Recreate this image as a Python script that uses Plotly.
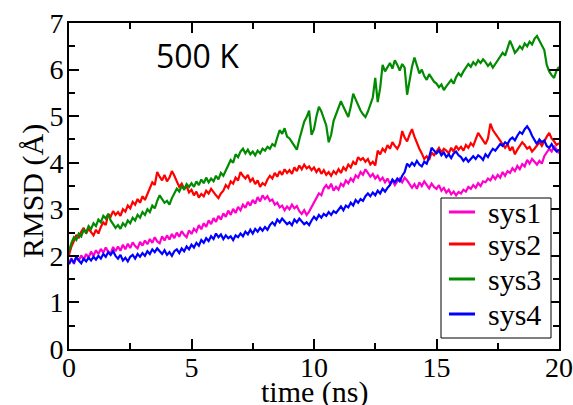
import plotly.graph_objects as go

# Sampling times (ns), one frame every 0.1 ns
time_ns = [round(i * 0.1, 1) for i in range(201)]

# RMSD traces (Å) at 500 K
sys1 = [
    1.86, 1.95, 1.83, 1.98, 1.90, 2.01, 1.92, 2.04, 1.96, 2.09,
    2.00, 2.12, 2.04, 2.15, 2.07, 2.18, 2.09, 2.05, 2.19, 2.10,
    2.20, 2.11, 2.24, 2.14, 2.26, 2.17, 2.29, 2.21, 2.16, 2.30,
    2.22, 2.33, 2.25, 2.36, 2.28, 2.40, 2.31, 2.27, 2.42, 2.33,
    2.44, 2.35, 2.47, 2.38, 2.50, 2.41, 2.53, 2.45, 2.40, 2.55,
    2.47, 2.58, 2.52, 2.66, 2.57, 2.70, 2.62, 2.76, 2.68, 2.81,
    2.73, 2.86, 2.78, 2.91, 2.84, 2.97, 2.88, 3.01, 2.92, 3.05,
    2.98, 3.10, 3.03, 3.16, 3.08, 3.20, 3.12, 3.26, 3.17, 3.30,
    3.22, 3.28, 3.18, 3.21, 3.10, 3.14, 3.04, 3.08, 2.98, 3.06,
    3.00, 3.10, 3.02, 3.07, 2.96, 2.90, 2.98, 2.88, 2.95, 3.05,
    3.12, 3.24, 3.34, 3.30, 3.45, 3.52, 3.44, 3.55, 3.40, 3.48,
    3.42, 3.55, 3.50, 3.62, 3.56, 3.66, 3.60, 3.73, 3.68, 3.80,
    3.74, 3.86, 3.78, 3.70, 3.76, 3.66, 3.72, 3.62, 3.68, 3.58,
    3.66, 3.55, 3.62, 3.52, 3.60, 3.66, 3.58, 3.68, 3.62, 3.54,
    3.46, 3.54, 3.44, 3.58, 3.50, 3.60, 3.52, 3.45, 3.55, 3.48,
    3.44, 3.52, 3.40, 3.46, 3.36, 3.42, 3.32, 3.38, 3.30, 3.37,
    3.34, 3.42, 3.38, 3.48, 3.44, 3.52, 3.46, 3.56, 3.50, 3.60,
    3.58, 3.66, 3.62, 3.72, 3.65, 3.74, 3.68, 3.80, 3.72, 3.82,
    3.78, 3.88, 3.82, 3.93, 3.86, 3.97, 3.92, 4.06, 3.98, 4.08,
    4.02, 3.96, 4.04, 3.98, 4.14, 4.22, 4.30, 4.24, 4.36, 4.28,
    4.20,
]

sys2 = [
    2.02, 2.20, 2.32, 2.45, 2.38, 2.52, 2.60, 2.48, 2.58, 2.50,
    2.44, 2.56, 2.48, 2.62, 2.72, 2.66, 2.90, 2.84, 2.96, 2.88,
    2.94, 2.86, 3.00, 2.95, 3.08, 3.02, 3.16, 3.10, 3.22, 3.14,
    3.28, 3.20, 3.34, 3.45, 3.58, 3.52, 3.80, 3.70, 3.62, 3.74,
    3.60, 3.68, 3.82, 3.72, 3.60, 3.48, 3.55, 3.44, 3.50, 3.36,
    3.42, 3.30, 3.38, 3.25, 3.33, 3.28, 3.40, 3.34, 3.44, 3.36,
    3.30, 3.24, 3.34, 3.40, 3.52, 3.46, 3.60, 3.55, 3.68, 3.62,
    3.80, 3.72, 3.66, 3.74, 3.60, 3.66, 3.54, 3.62, 3.48, 3.56,
    3.52, 3.64, 3.72, 3.66, 3.78, 3.70, 3.82, 3.74, 3.86, 3.78,
    3.84, 3.76, 3.90, 3.82, 3.94, 3.86, 3.96, 3.88, 3.92, 3.84,
    3.90, 3.80, 3.88, 3.76, 3.84, 3.74, 3.80, 3.72, 3.82, 3.76,
    3.86, 3.78, 3.90, 3.84, 3.96, 3.90, 4.02, 3.96, 4.12, 4.06,
    4.10, 4.02, 4.08, 3.96, 4.02, 3.94, 4.26, 4.18, 4.30, 4.24,
    4.38, 4.30, 4.44, 4.36, 4.30, 4.40, 4.68, 4.54, 4.46, 4.60,
    4.72, 4.56, 4.42, 4.30, 4.20, 4.08, 4.14, 4.06, 4.22, 4.16,
    4.24, 4.32, 4.22, 4.30, 4.26, 4.20, 4.32, 4.24, 4.36, 4.28,
    4.34, 4.26, 4.38, 4.32, 4.42, 4.36, 4.50, 4.64, 4.56, 4.48,
    4.40, 4.52, 4.84, 4.70, 4.62, 4.54, 4.46, 4.38, 4.32, 4.40,
    4.26, 4.34, 4.18, 4.28, 4.36, 4.44, 4.38, 4.30, 4.34, 4.24,
    4.30, 4.38, 4.44, 4.36, 4.48, 4.56, 4.64, 4.52, 4.46, 4.38,
    4.42,
]

sys3 = [
    2.10, 2.28, 2.40, 2.34, 2.48, 2.42, 2.56, 2.50, 2.64, 2.58,
    2.70, 2.64, 2.78, 2.72, 2.86, 2.80, 2.90, 2.76, 2.68, 2.60,
    2.66, 2.58, 2.70, 2.64, 2.76, 2.70, 2.82, 2.76, 2.88, 2.82,
    2.94, 2.88, 3.00, 2.94, 3.08, 3.02, 3.18, 3.30, 3.22, 3.14,
    3.18, 3.10, 3.24, 3.34, 3.44, 3.38, 3.50, 3.42, 3.54, 3.48,
    3.56, 3.48, 3.60, 3.52, 3.64, 3.56, 3.68, 3.58, 3.66, 3.60,
    3.72, 3.64, 3.78, 3.72, 3.84, 3.94, 4.06, 4.00, 4.18, 4.12,
    4.24, 4.30, 4.20, 4.28, 4.18, 4.24, 4.16, 4.26, 4.20, 4.30,
    4.26, 4.34, 4.30, 4.40, 4.36, 4.54, 4.70, 4.62, 4.74, 4.56,
    4.52, 4.44, 4.36, 4.28, 4.50, 4.70, 4.88, 4.98, 5.12, 4.60,
    4.72, 5.00, 5.20, 5.10, 4.96, 4.80, 4.44, 4.60, 4.90, 5.04,
    5.14, 5.32, 5.20, 5.08, 4.98, 5.20, 5.48, 5.36, 5.22, 5.12,
    5.04, 4.98, 5.10, 5.26, 5.40, 5.82, 5.30, 5.60, 6.10, 5.96,
    6.06, 6.14, 6.02, 6.20, 6.10, 5.98, 6.12, 6.04, 5.46, 5.80,
    6.06, 6.26, 6.10, 5.92, 6.00, 5.86, 5.78, 5.90, 5.82, 5.74,
    5.70, 5.62, 5.68, 5.56, 5.64, 5.72, 5.78, 5.70, 5.84, 5.92,
    5.86, 5.96, 6.04, 6.12, 6.06, 6.16, 6.10, 6.20, 6.14, 6.22,
    6.16, 6.08, 6.14, 6.04, 6.12, 6.20, 6.28, 6.36, 6.30, 6.46,
    6.62, 6.50, 6.36, 6.42, 6.50, 6.44, 6.56, 6.50, 6.60, 6.54,
    6.66, 6.72, 6.62, 6.50, 6.42, 6.10, 5.96, 5.88, 5.82, 5.98,
    6.06,
]

sys4 = [
    1.82, 1.92, 1.86, 1.98, 1.90, 1.84, 1.94, 1.88, 1.96, 1.90,
    1.98, 1.92, 2.00, 1.94, 2.04, 1.98, 2.08, 2.02, 2.10, 2.00,
    1.94, 2.02, 1.90, 1.96, 1.88, 1.98, 2.02, 1.94, 2.04, 1.98,
    2.06, 2.00, 2.10, 2.04, 2.14, 2.08, 2.16, 2.10, 2.04, 2.12,
    2.02, 2.08, 2.00, 2.10, 2.14, 2.06, 2.16, 2.10, 2.20, 2.14,
    2.24, 2.18, 2.28, 2.22, 2.34, 2.28, 2.38, 2.32, 2.42, 2.36,
    2.48, 2.40, 2.46, 2.36, 2.44, 2.38, 2.42, 2.34, 2.44, 2.40,
    2.48, 2.42, 2.52, 2.46, 2.56, 2.48, 2.58, 2.52, 2.60, 2.54,
    2.62, 2.56, 2.66, 2.72, 2.66, 2.78, 2.72, 2.80, 2.74, 2.68,
    2.72, 2.66, 2.78, 2.72, 2.80, 2.74, 2.68, 2.72, 2.66, 2.76,
    2.84, 2.78, 2.88, 2.82, 2.90, 2.86, 2.94, 2.88, 2.96, 2.92,
    3.00, 3.06, 2.98, 3.08, 3.04, 3.14, 3.08, 3.20, 3.14, 3.22,
    3.18, 3.28, 3.34, 3.28, 3.36, 3.30, 3.40, 3.34, 3.44, 3.38,
    3.46, 3.52, 3.64, 3.58, 3.66, 3.60, 3.72, 3.80, 3.98, 3.92,
    4.00, 3.94, 4.04, 3.96, 3.92, 4.02, 3.98, 4.12, 4.32, 4.26,
    4.20, 4.26, 4.16, 4.22, 4.12, 4.18, 4.10, 4.20, 4.24, 4.16,
    4.12, 4.04, 4.10, 4.02, 4.08, 4.14, 4.08, 4.16, 4.12, 4.06,
    4.18, 4.12, 4.22, 4.30, 4.26, 4.34, 4.40, 4.36, 4.44, 4.40,
    4.50, 4.54, 4.48, 4.58, 4.66, 4.62, 4.72, 4.78, 4.70, 4.58,
    4.48, 4.40, 4.50, 4.44, 4.48, 4.36, 4.32, 4.40, 4.30, 4.24,
    4.28,
]

series_names = ["sys1", "sys2", "sys3", "sys4"]
series_values = [sys1, sys2, sys3, sys4]
series_colors = ["#ff00cc", "#ff0000", "#008b00", "#0000ff"]

x_ticks = [0, 5, 10, 15, 20]
y_ticks = [0, 1, 2, 3, 4, 5, 6, 7]

serif = "Times New Roman"

# plot-area geometry in pixels, used to place the hand-built legend
L, R, T, B = 69, 559, 23, 349


def px_to_paper(px, py):
    return (px - L) / (R - L), (B - py) / (B - T)


fig = go.Figure()
for name, vals, col in zip(series_names, series_values, series_colors):
    fig.add_trace(go.Scatter(
        x=time_ns, y=vals, name=name, mode="lines",
        line=dict(color=col, width=2.2), showlegend=False,
    ))

axis_common = dict(
    showline=True, linecolor="black", linewidth=2, mirror="allticks",
    ticks="inside", ticklen=10, tickwidth=2, tickcolor="black",
    showgrid=False, zeroline=False, automargin=False,
    ticklabeloverflow="allow",
    tickfont=dict(family=serif, size=28, color="black"),
)

fig.update_xaxes(
    range=[0, 20], tickvals=x_ticks, ticklabelstandoff=-8,
    minor=dict(ticks="inside", ticklen=6, tickwidth=2, dtick=2.5, tick0=0, tickcolor="black"),
    **axis_common,
)
fig.update_yaxes(
    range=[0, 7], tickvals=y_ticks, ticklabelstandoff=-2,
    minor=dict(ticks="inside", ticklen=6, tickwidth=2, dtick=0.5, tick0=0, tickcolor="black"),
    **axis_common,
)

# axis titles
fig.add_annotation(
    text="time (ns)", xref="paper", yref="paper", x=0.5, y=px_to_paper(0, 392)[1],
    xanchor="center", yanchor="middle", showarrow=False,
    font=dict(family=serif, size=30, color="black"),
)
fig.add_annotation(
    text="RMSD (Å)", xref="paper", yref="paper", x=px_to_paper(33, 0)[0],
    y=px_to_paper(0, 191)[1], textangle=-90,
    xanchor="center", yanchor="middle", showarrow=False,
    font=dict(family=serif, size=30, color="black"),
)

fig.add_annotation(
    text="500 K", xref="paper", yref="paper", x=px_to_paper(197, 0)[0],
    y=px_to_paper(0, 56)[1],
    xanchor="center", yanchor="middle", showarrow=False,
    font=dict(family="Open Sans", size=32, color="black"),
)

# legend: framed box with a line sample and a label per series
bx0, by0 = px_to_paper(441, 338)
bx1, by1 = px_to_paper(551, 198)
fig.add_shape(type="rect", xref="paper", yref="paper", x0=bx0, y0=by0, x1=bx1, y1=by1,
              line=dict(color="black", width=1), fillcolor="white", layer="above")
row_y = [212, 244, 279, 314]
for name, col, py in zip(series_names, series_colors, row_y):
    sx0, sy = px_to_paper(449, py)
    sx1, _ = px_to_paper(475, py)
    fig.add_shape(type="line", xref="paper", yref="paper", x0=sx0, y0=sy, x1=sx1, y1=sy,
                  line=dict(color=col, width=3), layer="above")
    tx, _ = px_to_paper(486, py)
    fig.add_annotation(
        text=name, xref="paper", yref="paper", x=tx, y=sy,
        xanchor="left", yanchor="middle", showarrow=False,
        font=dict(family=serif, size=30, color="black"),
    )

fig.update_layout(
    width=573, height=405,
    margin=dict(l=L, r=573 - R, t=T, b=405 - B),
    plot_bgcolor="white", paper_bgcolor="white",
    showlegend=False,
)

fig.write_html("out.html")
